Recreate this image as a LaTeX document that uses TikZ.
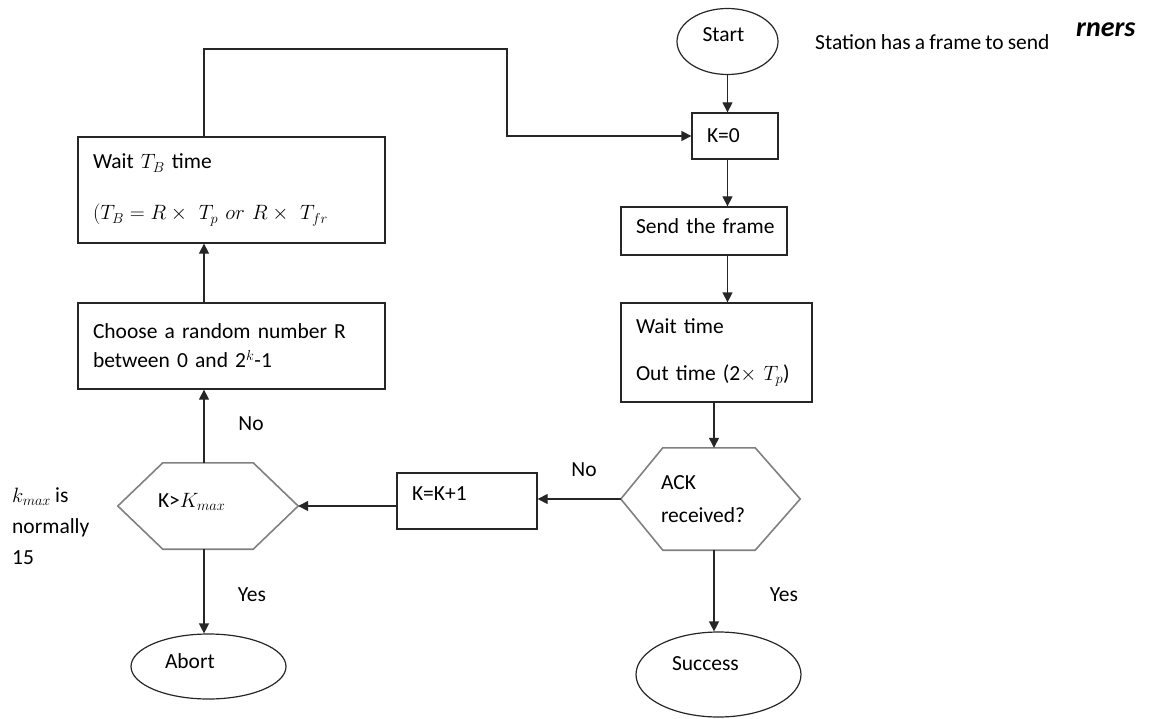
\documentclass[tikz,border=0pt]{standalone}
\usepackage{fontspec}
\setmainfont{Carlito}[WordSpace=0.85]
\usetikzlibrary{arrows.meta,shapes.geometric,calc}
\begin{document}
\begin{tikzpicture}[x=1pt,y=-1pt,
  every node/.style={font=\fontsize{21.5}{25}\selectfont, text=black},
  ln/.style={draw=black!85, line width=1.3pt},
  arr/.style={ln, -{Triangle[length=10pt,width=10pt]}},
  pbox/.style={ln, rectangle, inner xsep=15pt, inner ysep=0pt, align=left},
  hexn/.style={inner xsep=40pt, inner ysep=0pt, align=left},
  hexline/.style={draw=black!50, line width=1.6pt},
  oval/.style={draw=black!85, line width=1.2pt, ellipse, inner sep=0pt, align=left},
  lbl/.style={inner sep=0pt}
]
\useasboundingbox (0,0) rectangle (1150,719);
\coordinate (lx) at (204,0);
\coordinate (loopc) at (507,49);

% ovals
\node[oval, minimum width=101pt, minimum height=66pt, text width=50pt, text height=14pt, text depth=14pt] (start) at (727.5,41.5) {Start};
\node[oval, minimum width=165pt, minimum height=85pt, text width=93pt, text height=14pt, text depth=23pt] (success) at (718.5,674.5) {Success};
\node[oval, minimum width=155pt, minimum height=65pt, text width=87pt, text height=14pt, text depth=11pt] (abort) at (208.5,666.5) {Abort};

% boxes
\node[pbox, minimum width=86pt, minimum height=46pt, text width=56pt] (k0) at (735,136) {K=0};
\node[pbox, minimum width=166pt, minimum height=48pt, text width=136pt, text depth=9pt] (send) at (704,231) {\mbox{Send the frame}};
\node[pbox, minimum width=191pt, minimum height=99pt, text width=161pt] (waitto) at (716.5,352.5) {Wait time\\[22pt] Out time (2$\times$ $T_p$)};
\node[pbox, minimum width=140pt, minimum height=56pt, text width=110pt, text depth=14pt] (kinc) at (467,501) {K=K+1};
\node[pbox, minimum width=307pt, minimum height=86pt, text width=277pt] (choose) at (231.5,346) {Choose a random number R\\[4pt] between 0 and 2$^k$-1};
\node[pbox, minimum width=307pt, minimum height=106pt, text width=277pt] (waittb) at (231.5,190) {Wait $T_B$ time\\[26pt] $(T_B = R\times\ T_p\ or\ R\times\ T_{fr}$};

% hexagons
\node[hexn, minimum width=179pt, minimum height=102pt, text width=99pt] (ack) at (710.5,499) {ACK\\[8pt] received?};
\draw[hexline] (ack.west) -- ([xshift=42pt]ack.north west) -- ([xshift=-45pt]ack.north east) -- (ack.east) -- ([xshift=-45pt]ack.south east) -- ([xshift=42pt]ack.south west) -- cycle;
\node[hexn, minimum width=180pt, minimum height=86pt, text width=100pt, text depth=12pt] (kmax) at (208,506) {K>$K_{max}$};
\draw[hexline] (kmax.west) -- ([xshift=45pt]kmax.north west) -- ([xshift=-45pt]kmax.north east) -- (kmax.east) -- ([xshift=-45pt]kmax.south east) -- ([xshift=45pt]kmax.south west) -- cycle;

% texts
\node[lbl, anchor=west] (station) at (815,42) {Station has a frame to send};
\node[lbl, anchor=west, font=\fontsize{28}{32}\selectfont\bfseries\itshape] (rners) at (1076,30) {rners};
\node[lbl, anchor=west, align=left] (note) at (12,526) {$k_{max}$ is\\[6pt] normally\\[6pt] 15};
\node[lbl] (no1) at (584,470) {No};
\node[lbl] (yes1) at (784,595) {Yes};
\node[lbl] (no2) at (251,424) {No};
\node[lbl] (yes2) at (252,595) {Yes};

% connectors
\draw[arr] (start.south) -- (start.south |- k0.north);
\draw[arr] (k0.south -| start.south) -- (send.north -| start.south);
\draw[arr] (send.south -| start.south) -- (waitto.north -| start.south);
\draw[arr] ([xshift=-2.5pt]waitto.south) -- ([xshift=-2.5pt]waitto.south |- ack.north);
\draw[arr] ([xshift=3.5pt]ack.south) -- ([xshift=3.5pt]ack.south |- success.north);
\draw[arr] (ack.west) -- (ack.west -| kinc.east);
\draw[arr] (kmax.east -| kinc.west) -- (kmax.east);
\draw[arr] (kmax.north -| lx) -- (lx |- choose.south);
\draw[arr] (choose.north -| lx) -- (lx |- waittb.south);
\draw[arr] (waittb.north -| lx) |- (loopc) |- (k0.west);
\draw[arr] (kmax.south -| lx) -- (lx |- abort.north);
\end{tikzpicture}
\end{document}
